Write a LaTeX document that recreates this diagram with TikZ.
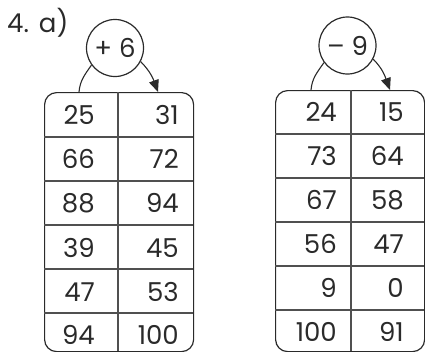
\documentclass[tikz,border=0pt]{standalone}
\usepackage{fontspec}
\setmainfont{Poppins}
\usetikzlibrary{arrows.meta}
\definecolor{ink}{HTML}{2A2A2A}
\definecolor{rule}{HTML}{505050}
\newcommand{\bigtxt}{\fontsize{26}{26}\selectfont}
\tikzset{
  num/.style={font=\bigtxt, text=ink, anchor=base east, inner sep=0pt},
  tablebox/.style={draw=ink, line width=1.2pt, rounded corners=12pt},
  op/.style={circle, draw=ink, line width=1.2pt, minimum size=57pt, inner sep=0pt, font=\bigtxt, text=ink},
  rowline/.style={draw=rule, line width=1.1pt},
  link/.style={draw=ink, line width=1.1pt},
  arr/.style={link, -{Triangle[length=12pt,width=10pt]}}
}
\begin{document}
\begin{tikzpicture}[x=1pt,y=-1pt]
\useasboundingbox (0,0) rectangle (425,351);
% heading
\node[font=\bigtxt, text=ink, anchor=base west, inner sep=0pt] (head) at (7,32) {4.\hspace{10pt}a)};

% ---------- left table ----------
\node[tablebox, anchor=north west, minimum width=149pt, minimum height=259pt, inner sep=0pt] (T1) at (44,92) {};
\foreach \y in {137,181,225,269,313} \draw[rowline] (44,\y) -- (193,\y);
\draw[rowline] (118,92) -- (118,351);
\foreach \a/\b/\y [count=\i] in {25/31/124,66/72/168,88/94/212,39/45/257,47/53/301,94/100/344}{
  \node[num] (L\i a) at (95,\y) {\a};
  \node[num] (L\i b) at (179,\y) {\b};
}
\node[op] (c1) at (115,48) {+ 6};
\coordinate (L1in) at (79,92);
\coordinate (L1out) at (158,92);
\draw[link] (c1.216) to[out=235,in=85] (L1in);
\draw[arr] (c1.-28) to[out=-45,in=110] (L1out);

% ---------- right table ----------
\node[tablebox, anchor=north west, minimum width=149pt, minimum height=261pt, inner sep=0pt] (T2) at (275,90) {};
\foreach \y in {134,178,222,266,310} \draw[rowline] (275,\y) -- (424,\y);
\draw[rowline] (351,90) -- (351,351);
\foreach \a/\b/\y [count=\i] in {24/15/121,73/64/165,67/58/209,56/47/253,9/0/297,100/91/341}{
  \node[num] (R\i a) at (337,\y) {\a};
  \node[num] (R\i b) at (404,\y) {\b};
}
\node[op] (c2) at (347.5,45.5) {– 9};
\coordinate (R1in) at (311,90);
\coordinate (R1out) at (390,90);
\draw[link] (c2.216) to[out=235,in=85] (R1in);
\draw[arr] (c2.-28) to[out=-45,in=110] (R1out);
\end{tikzpicture}
\end{document}
